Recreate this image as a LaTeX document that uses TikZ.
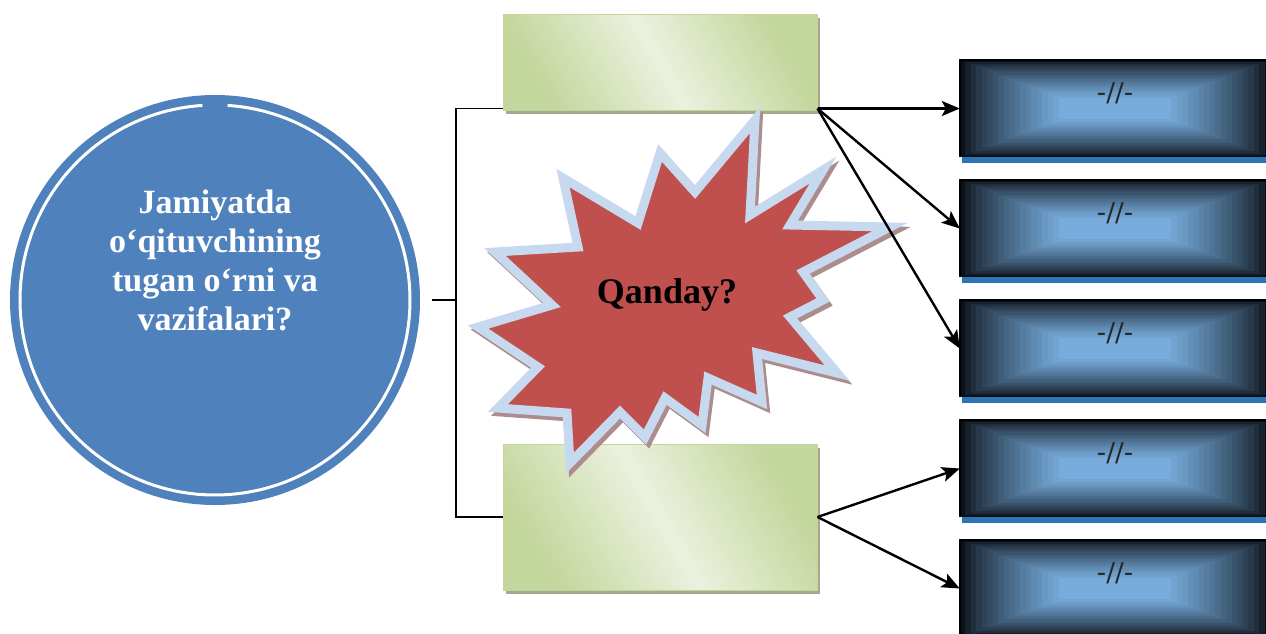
\documentclass[tikz,border=0pt]{standalone}
\usepackage{fontspec}
\setmainfont{Liberation Serif}
\newfontfamily\dvs{DejaVu Sans}
\usetikzlibrary{arrows.meta,calc,shadows}
\definecolor{cblue}{HTML}{4F81BD}
\definecolor{gdark}{HTML}{C3D69B}
\definecolor{glight}{HTML}{EBF1DE}
\definecolor{gshad}{HTML}{A5AA8E}
\definecolor{dk}{HTML}{0B1017}
\definecolor{lb}{HTML}{77ACDC}
\definecolor{bar}{HTML}{2E75B6}
\definecolor{sred}{HTML}{C0504D}
\definecolor{sline}{HTML}{C6D9EF}
\definecolor{sshad}{HTML}{AC8C8C}
\tikzset{
  conn/.style={line width=1.5pt, black},
  arr/.style={line width=2.4pt, black, -{Stealth[length=18pt,width=15pt,inset=4pt]}},
  gbox/.style={draw=gdark, line width=1pt, minimum width=314pt,
    general shadow={fill=gshad, draw=none, shadow xshift=3pt, shadow yshift=-4pt},
    top color=gdark, bottom color=gdark, middle color=glight, shading angle=-60},
  dbox/.style={minimum width=310pt, minimum height=97pt, inner sep=0pt},
  dtext/.style={font=\dvs\fontsize{26}{28}\selectfont, text=black!85},
}
\begin{document}
\begin{tikzpicture}[x=1pt,y=-1pt]
\useasboundingbox (0,0) rectangle (1266,633);
% circle
\node[circle, fill=cblue, minimum size=410pt, inner sep=0pt] (c) at (215,300) {};
\draw[white, line width=3pt] (215,300) ++(93.7:195pt) arc[start angle=93.7, end angle=446.3, radius=195pt];
\node[text=white, align=center, font=\fontsize{34}{39}\selectfont\bfseries] (ct) at (215,260)
  {Jamiyatda\\o‘qituvchining\\tugan o‘rni va\\vazifalari?};
% green boxes
\node[gbox, minimum height=96pt] (tb) at (660,62) {};
\node[gbox, minimum height=146pt] (bb) at (660,517) {};
% bracket
\coordinate (ce) at ($(c.east)+(12,0)$);
\coordinate (j) at (456,300);
\coordinate (tbl) at ($(tb.south west)+(0,-2)$);
\coordinate (tbo) at ($(tb.south east)+(0,-2)$);
\draw[conn] (ce) -- (j);
\draw[conn] (tbl) -| (j) |- (bb.west);
% dark boxes
\foreach \i/\t in {1/60,2/180,3/300,4/420,5/540}{
  \node[dbox] (d\i) at (1115,\t+48.5) {};
  \fill[bar] ($(d\i.south west)+(2,0)$) rectangle ($(d\i.south east)+(0,6)$);
  \foreach \k in {0,...,18}{
    \pgfmathtruncatemacro\p{100*(\k/18)^0.75}
    \fill[lb!\p!dk] ($(d\i.north west)+(\k*5.5,\k*2.1)$) rectangle ($(d\i.south east)+(-\k*5.5,-\k*2.1)$);
  }
  \draw[black, line width=2.5pt] (d\i.south west) -- (d\i.north west) -- (d\i.north east);
  \node[dtext] (t\i) at (1115,\t+33) {-//-};
}
% starburst
\def\burst{(755,120) -- (750,215) -- (823,170) -- (790,225) -- (890,227) -- (803,272) -- (823,300) -- (790,317) -- (837,373) -- (757,353) -- (762,402) -- (708,378) -- (702,425) -- (665,398) -- (645,437) -- (620,412) -- (570,463) -- (567,413) -- (498,408) -- (538,367) -- (478,327) -- (552,305) -- (495,252) -- (578,247) -- (563,178) -- (638,223) -- (660,153) -- (695,192) -- cycle}
\begin{scope}[shift={(3pt,-4pt)}]
\draw[sshad, fill=sshad, line width=9pt, line join=miter] \burst;
\end{scope}
\draw[sline, fill=sred, line width=9pt, line join=miter] \burst;
\node[font=\fontsize{36}{40}\selectfont\bfseries] (q) at (667,295) {Qanday?};
% arrows
\draw[arr] (tbo) -- (d1.west);
\draw[arr] (tbo) -- (d2.west);
\draw[arr] (tbo) -- (d3.west);
\draw[arr] (bb.east) -- (d4.west);
\draw[arr] (bb.east) -- (d5.west);
\end{tikzpicture}
\end{document}
